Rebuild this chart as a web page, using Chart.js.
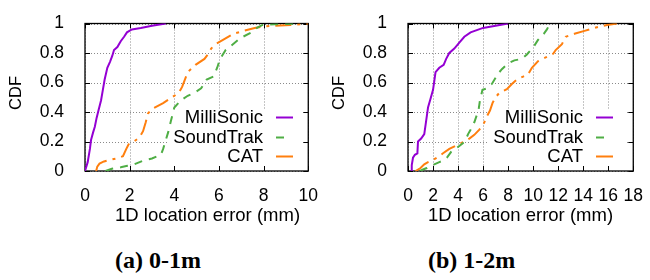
<!DOCTYPE html>
<html>
<head>
<meta charset="utf-8">
<script src="https://cdn.jsdelivr.net/npm/chart.js@4.4.0/dist/chart.umd.min.js"></script>
<style>
body { margin: 0; background: #fff; width: 650px; height: 280px; position: relative; overflow: hidden; }
.panel { position: absolute; top: 0; width: 325px; height: 230px; }
.cap { position: absolute; top: 247px; font: bold 24px "Liberation Serif", serif; color: #000; white-space: nowrap; }
</style>
</head>
<body>
<div class="panel" style="left:0"><canvas id="chartA"></canvas></div>
<div class="panel" style="left:325px"><canvas id="chartB"></canvas></div>
<div class="cap" style="left:115px">(a) 0-1m</div>
<div class="cap" style="left:428px">(b) 1-2m</div>
<script>
// Series names and tick labels
const seriesNames = ['MilliSonic', 'SoundTrak', 'CAT'];
const yTicks = [0, 0.2, 0.4, 0.6, 0.8, 1];
const xTicksA = [0, 2, 4, 6, 8, 10];
const xTicksB = [0, 2, 4, 6, 8, 10, 12, 14, 16, 18];

// (a) 0-1m : error (mm) vs CDF
const milliA_x = [0, 0.12, 0.22, 0.27, 0.36, 0.44, 0.52, 0.62, 0.72, 0.8, 0.88, 1.0, 1.12, 1.22, 1.3, 1.45, 1.6, 1.75, 1.88, 2.1, 2.5, 3.0, 3.62];
const milliA_y = [0, 0.06, 0.15, 0.21, 0.26, 0.30, 0.36, 0.42, 0.48, 0.55, 0.62, 0.70, 0.74, 0.78, 0.82, 0.84, 0.88, 0.91, 0.94, 0.96, 0.97, 0.985, 1.0];
const soundA_x = [0.92, 1.2, 1.6, 1.9, 2.2, 2.6, 3.0, 3.4, 3.5, 3.6, 3.72, 3.85, 4.0, 4.3, 4.6, 4.9, 5.2, 5.45, 5.75, 5.92, 6.05, 6.3, 6.55, 6.95, 7.45, 7.7, 7.95, 8.5, 9.6];
const soundA_y = [0, 0.015, 0.025, 0.035, 0.045, 0.07, 0.085, 0.11, 0.15, 0.2, 0.26, 0.34, 0.43, 0.48, 0.51, 0.53, 0.56, 0.62, 0.64, 0.70, 0.76, 0.82, 0.85, 0.90, 0.94, 0.97, 0.99, 0.995, 1.0];
const catA_x = [0.5, 0.55, 0.65, 0.85, 1.1, 1.4, 1.7, 1.85, 1.95, 2.2, 2.45, 2.6, 2.72, 2.82, 3.0, 3.5, 3.9, 4.2, 4.35, 4.5, 4.6, 4.95, 5.35, 5.55, 5.65, 5.85, 6.2, 6.65, 7.1, 7.6, 8.0, 8.5, 9.2, 10];
const catA_y = [0, 0.03, 0.05, 0.065, 0.075, 0.085, 0.1, 0.15, 0.18, 0.2, 0.23, 0.27, 0.33, 0.39, 0.42, 0.46, 0.5, 0.53, 0.57, 0.63, 0.67, 0.72, 0.76, 0.80, 0.83, 0.86, 0.89, 0.93, 0.95, 0.97, 0.98, 0.985, 0.99, 1.0];

// (b) 1-2m
const milliB_x = [0.24, 0.3, 0.4, 0.55, 0.75, 0.8, 1.05, 1.3, 1.45, 1.6, 1.8, 2.0, 2.1, 2.2, 2.5, 2.85, 3.05, 3.3, 3.7, 4.1, 4.5, 5.0, 6.0, 7.0, 8.0];
const milliB_y = [0, 0.04, 0.09, 0.11, 0.12, 0.2, 0.22, 0.25, 0.34, 0.43, 0.49, 0.55, 0.61, 0.67, 0.70, 0.72, 0.76, 0.80, 0.83, 0.87, 0.91, 0.94, 0.97, 0.985, 1.0];
const soundB_x = [0.95, 1.2, 1.5, 1.8, 2.1, 2.5, 2.8, 3.1, 3.45, 3.8, 4.1, 4.4, 4.65, 4.8, 5.0, 5.3, 5.5, 5.65, 5.75, 5.95, 6.3, 6.7, 7.2, 7.5, 8.0, 8.5, 9.1, 9.5, 9.8, 10.1, 10.4, 10.85, 11.1, 11.35];
const soundB_y = [0, 0.01, 0.02, 0.035, 0.045, 0.06, 0.07, 0.09, 0.13, 0.15, 0.17, 0.19, 0.22, 0.25, 0.28, 0.33, 0.38, 0.42, 0.48, 0.55, 0.56, 0.59, 0.66, 0.69, 0.73, 0.75, 0.76, 0.79, 0.82, 0.85, 0.89, 0.93, 0.96, 1.0];
const catB_x = [0.6, 0.8, 1.0, 1.3, 1.6, 2.0, 2.4, 2.8, 3.3, 3.9, 4.4, 4.9, 5.3, 5.7, 6.05, 6.3, 6.55, 6.75, 7.0, 7.3, 7.9, 8.3, 8.7, 9.2, 9.6, 9.9, 10.4, 11.0, 11.6, 11.8, 12.3, 12.6, 13.3, 14.1, 15.1, 15.9, 16.7];
const catB_y = [0, 0.01, 0.02, 0.045, 0.06, 0.075, 0.095, 0.12, 0.15, 0.175, 0.195, 0.22, 0.245, 0.28, 0.32, 0.37, 0.41, 0.46, 0.50, 0.53, 0.555, 0.59, 0.62, 0.64, 0.655, 0.70, 0.745, 0.77, 0.795, 0.82, 0.86, 0.91, 0.93, 0.95, 0.975, 0.99, 1.0];

const colors = ['#9400d3', '#4fae45', '#ff7f0e'];
const dashes = [[], [8, 7], [16, 6, 3, 6]];
const keyDashes = [[], [8, 20], []];
const FONT = '"Liberation Sans", Arial, sans-serif';

const pts = (xs, ys) => xs.map((x, i) => ({ x: x, y: ys[i] }));

// gnuplot look: dotted grid, opaque key, inward ticks, labels
const gnuplotLook = {
    id: 'gnuplotLook',
    beforeDatasetsDraw(chart, args, o) {
        const { ctx, chartArea: a, scales: { x, y } } = chart;
        ctx.save();
        ctx.strokeStyle = '#8a8a8a';
        ctx.lineWidth = 1;
        ctx.setLineDash([1, 2]);
        ctx.beginPath();
        x.ticks.forEach(t => {
            const px = Math.round(x.getPixelForValue(t.value)) + 0.5;
            ctx.moveTo(px, a.top); ctx.lineTo(px, a.bottom);
        });
        y.ticks.forEach(t => {
            const py = Math.round(y.getPixelForValue(t.value)) + 0.5;
            ctx.moveTo(a.left, py); ctx.lineTo(a.right, py);
        });
        ctx.stroke();

        // key box hides the grid
        ctx.fillStyle = '#fff';
        ctx.fillRect(o.keyRight - 94, 109.5, 136, a.bottom - 109.5);

        // border + ticks
        ctx.setLineDash([]);
        ctx.strokeStyle = '#000';
        ctx.lineWidth = 1.3;
        ctx.strokeRect(a.left, a.top, a.right - a.left, a.bottom - a.top);
        ctx.lineWidth = 1;
        ctx.beginPath();
        x.ticks.forEach(t => {
            const px = Math.round(x.getPixelForValue(t.value)) + 0.5;
            ctx.moveTo(px, a.bottom); ctx.lineTo(px, a.bottom - 5);
            ctx.moveTo(px, a.top); ctx.lineTo(px, a.top + 5);
        });
        y.ticks.forEach(t => {
            const py = Math.round(y.getPixelForValue(t.value)) + 0.5;
            ctx.moveTo(a.left, py); ctx.lineTo(a.left + 5, py);
            ctx.moveTo(a.right, py); ctx.lineTo(a.right - 5, py);
        });
        ctx.stroke();
        ctx.restore();
    },
    afterDatasetsDraw(chart, args, o) {
        const { ctx } = chart;
        ctx.save();
        const rows = [117, 137, 156];
        ctx.font = '18.5px ' + FONT;
        ctx.fillStyle = '#000';
        ctx.textAlign = 'right';
        ctx.textBaseline = 'middle';
        chart.data.datasets.forEach((ds, i) => {
            ctx.fillText(ds.label, o.keyRight, rows[i] + 1);
            ctx.strokeStyle = ds.borderColor;
            ctx.lineWidth = 2;
            ctx.setLineDash(keyDashes[i]);
            ctx.beginPath();
            ctx.moveTo(o.keyRight + 13, rows[i] + 0.5);
            ctx.lineTo(o.keyRight + 30, rows[i] + 0.5);
            ctx.stroke();
        });
        ctx.setLineDash([]);

        // axis titles
        ctx.textAlign = 'left';
        ctx.font = '18.5px ' + FONT;
        ctx.fillText('1D location error (mm)', o.xlabelLeft, 216);
        ctx.translate(o.cdfX, 93);
        ctx.rotate(-Math.PI / 2);
        ctx.textAlign = 'center';
        ctx.font = '16.5px ' + FONT;
        ctx.fillText('CDF', 0, 0);
        ctx.restore();
    }
};

function makeChart(id, xMax, xTicks, series, o) {
    const datasets = series.map((s, i) => ({
        label: seriesNames[i],
        data: pts(s[0], s[1]),
        showLine: true,
        borderColor: colors[i],
        borderWidth: 2,
        borderDash: dashes[i],
        pointRadius: 0,
        tension: 0
    }));
    return new Chart(document.getElementById(id), {
        type: 'scatter',
        data: { datasets: datasets },
        options: {
            responsive: true,
            maintainAspectRatio: false,
            animation: false,
            layout: { padding: { top: 13, right: o.padRight, left: 0, bottom: 0 } },
            plugins: { legend: { display: false }, tooltip: { enabled: false }, gnuplotLook: o },
            scales: {
                x: {
                    min: 0, max: xMax,
                    afterBuildTicks: s => { s.ticks = xTicks.map(v => ({ value: v })); },
                    afterFit: s => { s.height = 59; },
                    grid: { display: false },
                    border: { display: false },
                    ticks: { color: '#000', font: { family: FONT, size: 17.5 }, padding: 7, maxRotation: 0, autoSkip: false }
                },
                y: {
                    min: 0, max: 1,
                    afterBuildTicks: s => { s.ticks = yTicks.map(v => ({ value: v })); },
                    afterFit: s => { s.width = o.axisWidth; },
                    grid: { display: false },
                    border: { display: false },
                    ticks: { color: '#000', font: { family: FONT, size: 17.5 }, padding: 13, callback: v => String(v) }
                }
            }
        },
        plugins: [gnuplotLook]
    });
}

makeChart('chartA', 10, xTicksA,
    [[milliA_x, milliA_y], [soundA_x, soundA_y], [catA_x, catA_y]],
    { padRight: 10, axisWidth: 85, keyRight: 263, xlabelLeft: 115, cdfX: 16 });

makeChart('chartB', 18, xTicksB,
    [[milliB_x, milliB_y], [soundB_x, soundB_y], [catB_x, catB_y]],
    { padRight: 13, axisWidth: 83, keyRight: 258, xlabelLeft: 103, cdfX: 14 });
</script>
</body>
</html>
